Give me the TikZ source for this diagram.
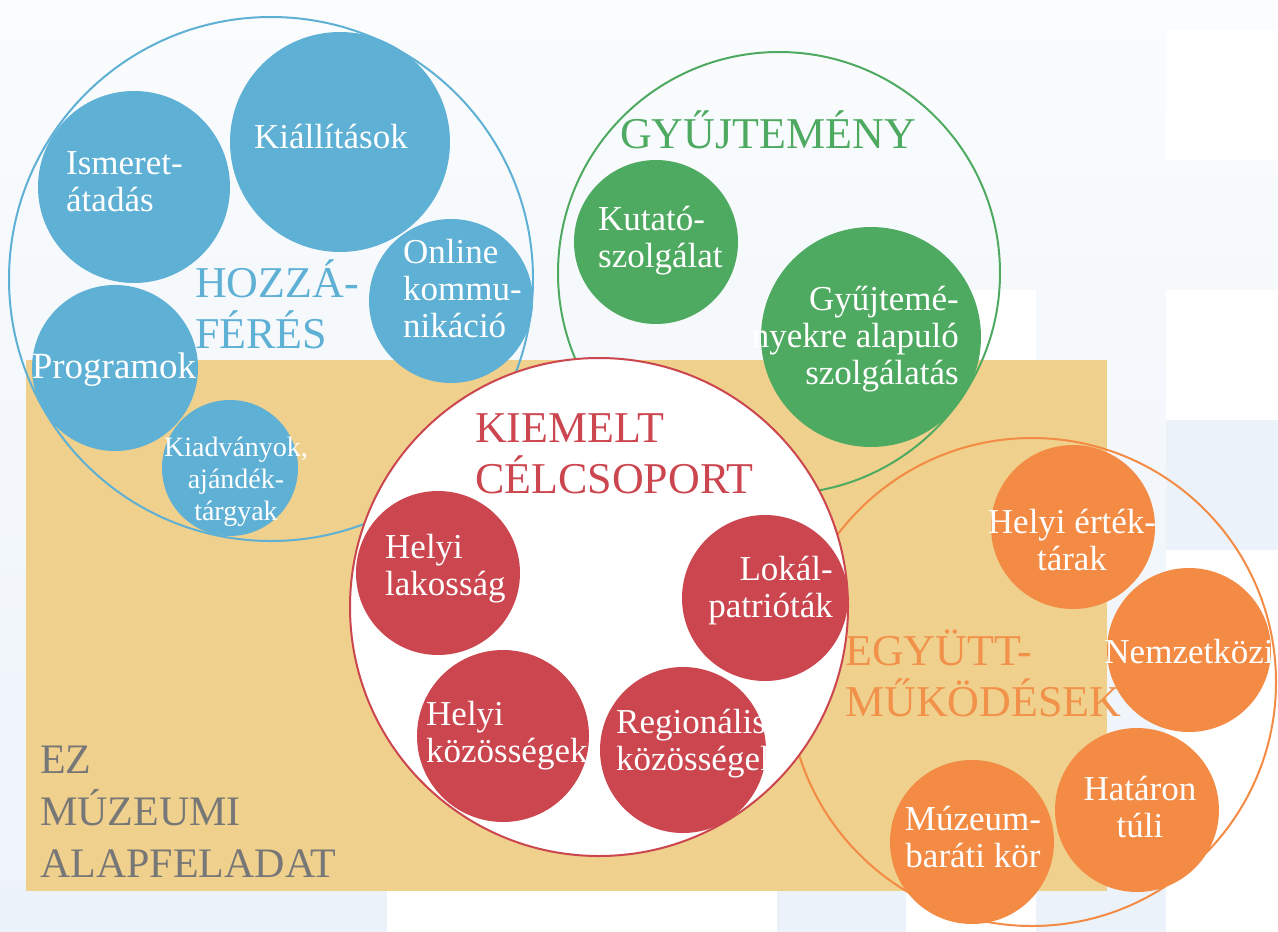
\documentclass[tikz,border=0pt]{standalone}
\usepackage{fontspec}
\setmainfont{Liberation Serif}
\definecolor{bgA}{HTML}{FAFCFD}
\definecolor{bgB}{HTML}{EDF3FA}
\definecolor{bgW}{HTML}{FFFFFF}
\definecolor{bgL}{HTML}{EBF2FA}
\definecolor{tanc}{HTML}{EFD08C}
\definecolor{cblue}{HTML}{5EB0D5}
\definecolor{cgreen}{HTML}{4FAA61}
\definecolor{cred}{HTML}{CB464E}
\definecolor{corange}{HTML}{F48B44}
\definecolor{corangeT}{HTML}{F1914A}
\definecolor{cgray}{HTML}{777777}
\newcommand\LinesL[1]{\vtop{\halign{##\hfil\cr#1\crcr}}}
\newcommand\LinesC[1]{\vtop{\halign{\hfil##\hfil\cr#1\crcr}}}
\newcommand\LinesR[1]{\vtop{\halign{\hfil##\cr#1\crcr}}}
\tikzset{
  ring/.style={circle, draw, line width=2pt, inner sep=0pt, minimum size=#1},
  disc/.style={circle, inner sep=0pt, minimum size=#1},
  lbl/.style={text=white, inner sep=0pt, font=\fontsize{35}{37}\selectfont},
  title/.style={inner sep=0pt, font=\fontsize{44}{51}\selectfont},
}
\begin{document}
\begin{tikzpicture}[x=1pt,y=-1pt]
\useasboundingbox (0,0) rectangle (1278,932);
% background
\shade[top color=bgA, bottom color=bgB] (0,0) rectangle (1278,932);
\fill[bgA] (0,0) rectangle (1278,30);
\fill[bgW] (1166,30) rectangle (1278,160);
\fill[bgW] (1166,290) rectangle (1278,420);
\fill[bgL] (1166,420) rectangle (1278,550);
\fill[bgW] (1166,550) rectangle (1278,808);
\fill[bgW] (880,290) rectangle (1036,360);
\fill[bgL] (0,890) rectangle (387,932);
\fill[bgW] (387,890) rectangle (777,932);
\fill[bgL] (777,890) rectangle (906,932);
\fill[bgW] (906,890) rectangle (1036,932);
\fill[bgL] (1036,808) rectangle (1166,932);
\fill[bgW] (1166,808) rectangle (1278,932);
% tan rectangle
\fill[tanc] (26,360) rectangle (1107,891);
% big rings
\node[ring=524, draw=cblue] (hoz) at (271,279) {};
\node[ring=442, draw=cgreen] (gyu) at (779,273) {};
\node[ring=488, draw=corange] (egy) at (1032,682) {};
\node[ring=498, draw=cred, fill=white] (kie) at (599,607) {};
% blue discs
\node[disc=192, fill=cblue] (ism) at (134,187) {};
\node[disc=220, fill=cblue] (kia) at (340,142) {};
\node[disc=164, fill=cblue] (onl) at (451,301) {};
\node[disc=166, fill=cblue] (pro) at (115,368) {};
\node[disc=136, fill=cblue] (kid) at (230,468) {};
% green discs
\node[disc=164, fill=cgreen] (kut) at (656,242) {};
\node[disc=220, fill=cgreen] (gyj) at (871,337) {};
% red discs
\node[disc=164, fill=cred] (hla) at (438,573) {};
\node[disc=172, fill=cred] (hko) at (503,736) {};
\node[disc=166, fill=cred] (lok) at (765,598) {};
\node[disc=166, fill=cred] (reg) at (683,750) {};
% orange discs
\node[disc=164, fill=corange] (het) at (1073,527) {};
\node[disc=164, fill=corange] (nem) at (1189,650) {};
\node[disc=164, fill=corange] (hat) at (1137,810) {};
\node[disc=164, fill=corange] (muz) at (972,842) {};
% labels
\node[lbl, anchor=base west] (t-ism) at (66,174) {\LinesL{Ismeret-\cr átadás}};
\node[lbl, anchor=base] (t-kia) at (331,148) {Kiállítások};
\node[lbl, anchor=base west] (t-onl) at (403,263) {\LinesL{Online\cr kommu-\cr nikáció}};
\node[lbl, anchor=base, font=\fontsize{37}{37}\selectfont] (t-pro) at (114,378) {Programok};
\node[lbl, anchor=base, font=\fontsize{28}{32}\selectfont] (t-kid) at (236,456) {\LinesC{Kiadványok,\cr ajándék-\cr tárgyak}};
\node[title, text=cblue, anchor=base west] (t-hoz) at (195,297) {\LinesL{HOZZÁ-\cr FÉRÉS}};
\node[title, text=cgreen, anchor=base west] (t-gyu) at (620,148) {GYŰJTEMÉNY};
\node[lbl, anchor=base west] (t-kut) at (598,230) {\LinesL{Kutató-\cr szolgálat}};
\node[lbl, anchor=base east] (t-gyj) at (959,310) {\LinesR{Gyűjtemé-\cr nyekre alapuló\cr szolgálatás}};
\node[title, text=cred, anchor=base west] (t-kie) at (475,442) {\LinesL{KIEMELT\cr CÉLCSOPORT}};
\node[lbl, anchor=base west] (t-hla) at (385,558) {\LinesL{Helyi\cr lakosság}};
\node[lbl, anchor=base west] (t-hko) at (426,725) {\LinesL{Helyi\cr közösségek}};
\node[lbl, anchor=base east] (t-lok) at (833,580) {\LinesR{Lokál-\cr patrióták}};
\node[lbl, anchor=base west] (t-reg) at (616,733) {\LinesL{Regionális\cr közösségek}};
\node[title, text=corangeT, anchor=base west] (t-egy) at (845,665) {\LinesL{EGYÜTT-\cr MŰKÖDÉSEK}};
\node[lbl, anchor=base] (t-het) at (1072,533) {\LinesC{Helyi érték-\cr tárak}};
\node[lbl, anchor=base] (t-nem) at (1189,663) {Nemzetközi};
\node[lbl, anchor=base] (t-hat) at (1140,800) {\LinesC{Határon\cr túli}};
\node[lbl, anchor=base] (t-muz) at (973,830) {\LinesC{Múzeum-\cr baráti kör}};
\node[title, text=cgray, anchor=base west, font=\fontsize{42}{52}\selectfont] (t-ez) at (40,773) {\LinesL{EZ\cr MÚZEUMI\cr ALAPFELADAT}};
\end{tikzpicture}
\end{document}
